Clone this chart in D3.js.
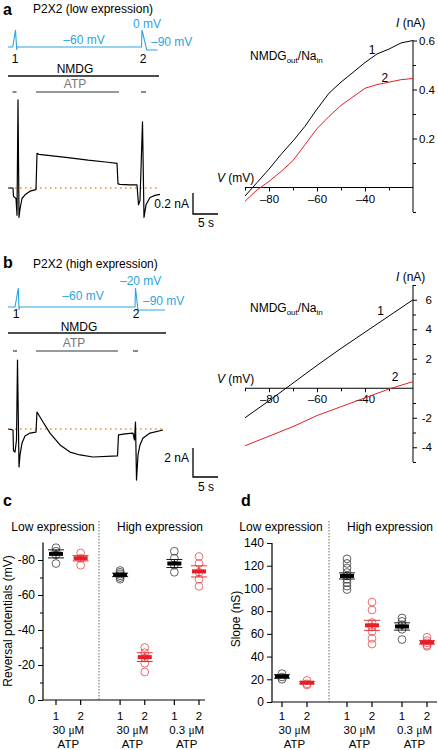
<!DOCTYPE html>
<html><head><meta charset="utf-8">
<script src="https://cdn.jsdelivr.net/npm/d3@7"></script>
<style>
body{margin:0;background:#fff}
svg{font-family:"Liberation Sans",Arial,Helvetica,sans-serif}
</style></head><body>
<svg id="fig" width="438" height="750"></svg>
<script>
// ---------------- DATA ----------------
// Panel a trace (time s, current nA)
const traceA_t=[0,1.0,1.1,1.6,1.8,2.0,2.2,2.4,2.8,3.4,4.4,5.6,5.8,6.2,8,12,16,20,21.8,22.0,22.4,24.4,25.8,26.1,26.4,26.9,27.2,27.6,28.4,29.4,30.4];
const traceA_i=[0,0,-0.08,-0.10,-0.26,0.84,-0.28,-0.2,-0.1,-0.065,-0.03,-0.015,0.33,0.32,0.31,0.29,0.265,0.245,0.235,0.04,0.035,0.03,0.03,-0.16,-0.12,0.63,-0.28,-0.16,-0.09,-0.07,-0.06];
// Panel b trace
const traceB_t=[0,1.0,1.1,1.4,1.7,1.9,2.2,2.4,2.8,3.4,4.4,5.6,5.8,7.0,8.4,10.4,12.4,14.4,17.0,21.9,22.1,23.4,25.0,25.3,25.5,25.7,26.0,26.4,27.0,28.4,31.0];
const traceB_i=[0,-0.07,-1.5,-1.59,-0.76,4.76,-2.62,-1.79,-0.97,-0.48,-0.28,-0.21,1.17,0.48,-0.28,-1.10,-1.59,-1.79,-1.93,-1.86,-0.41,-0.34,-0.28,-0.76,0.48,-3.52,-1.79,-1.10,-0.62,-0.28,-0.07];
// voltage protocols (time s, mV)
const protoA_t=[0,0.95,1.5,1.75,1.8,26.7,26.8,27.75,29.9];
const protoA_v=[-60,-60,0,-90,-60,-60,0,-90,-90];
const protoB_t=[0,1.4,2.06,2.2,2.26,25.4,25.5,26.0,31.4];
const protoB_v=[-60,-60,-20,-90,-60,-60,-20,-90,-90];
// solution bars (time s)
const nmdgA=[0,30.2], atpA=[5.6,22.2], dashA=[[0.9,1.7],[26.6,27.6]];
const nmdgB=[0,31.6], atpB=[5.6,22.0], dashB=[[1.0,1.8],[25.0,26.0]];
// I-V curves
const ivA_V=[-90,-85,-80,-75,-70,-65,-60,-55,-50,-45,-40,-35,-30,-25,-20];
const ivA_1=[-0.035,0.02,0.075,0.135,0.19,0.25,0.32,0.385,0.43,0.47,0.51,0.545,0.565,0.59,0.60];
const ivA_2=[-0.056,-0.01,0.025,0.065,0.11,0.175,0.24,0.29,0.335,0.37,0.405,0.42,0.43,0.44,0.445];
const ivB_V=[-90,-80,-70,-60,-50,-40,-30,-20];
const ivB_1=[-2.0,-0.85,0.35,1.55,2.7,3.8,4.9,6.0];
const ivB_2=[-3.9,-3.25,-2.6,-1.85,-1.25,-0.65,-0.05,0.45];
// panels c and d
const catLabels=["1","2","1","2","1","2"];
const groupConc=["30 μM","30 μM","0.3 μM"];
const catColor=["k","r","k","r","k","r"];
const revPts=[[87,85,83,78],[84,81,77],[74,73,72,71,70,69],[30,27,24,21,16],[85,81,77,73],[82,78,73,69,65]];
const revMean=[83.5,81,71.5,24.5,78,73.5];
const revSem=[2.3,1.5,1.0,2.5,2.3,3.2];
const slopePts=[[25,22,20],[19,16,15],[126,122,118,114,111,108,105,102,99],[88,81,70,66,62,56,51],[74,71,68,64,55],[57,54,52,50,49]];
const slopeMean=[22.5,17,111,67.5,66.5,52.5];
const slopeSem=[1.5,1.0,2.7,4.4,3.2,1.5];

// ---------------- STYLE / LAYOUT ----------------
const BLUE="#2aa5df", RED="#e41f26", REDC="#e8474c", ORANGE="#f0903a", GRAY="#777";
const catSlot=[0,1,2.6,3.6,4.8,5.8];
const svg=d3.select("#fig");

function text(x,y,s,o={}){
  const t=svg.append("text").attr("x",x).attr("y",y).text(s)
    .attr("font-size",o.size||12).attr("fill",o.fill||"#000")
    .attr("text-anchor",o.anchor||"start");
  if(o.bold) t.attr("font-weight","bold");
  if(o.italic) t.attr("font-style","italic");
  return t;
}
function muText(x,y,pre,post,size){
  const t=svg.append("text").attr("x",x).attr("y",y).attr("font-size",size).attr("text-anchor","middle");
  t.append("tspan").text(pre);
  t.append("tspan").attr("font-family","'Liberation Serif',serif").text("μ");
  t.append("tspan").text(post);
}

// ---------------- TRACE PANELS ----------------
const xT=d3.scaleLinear().domain([0,30]).range([8,158]);
function tracePanel(cfg){
  const {tArr,iArr,yScale,pt,pv,yP,nmdg,atp,dashes,yN,yA,baseEnd,barI,barBottom}=cfg;
  const proto=pt.map((t,k)=>[t,pv[k]]);
  svg.append("path").attr("d",d3.line().x(d=>xT(d[0])).y(d=>yP(d[1]))(proto))
    .attr("fill","none").attr("stroke",BLUE).attr("stroke-width",1.1);
  svg.append("line").attr("x1",xT(nmdg[0])).attr("x2",xT(nmdg[1])).attr("y1",yN).attr("y2",yN).attr("stroke","#111").attr("stroke-width",1.4);
  svg.append("line").attr("x1",xT(atp[0])).attr("x2",xT(atp[1])).attr("y1",yA).attr("y2",yA).attr("stroke",GRAY).attr("stroke-width",1.4);
  dashes.forEach(d=>svg.append("line").attr("x1",xT(d[0])).attr("x2",xT(d[1])).attr("y1",yA).attr("y2",yA).attr("stroke","#555").attr("stroke-width",1.4));
  svg.append("line").attr("x1",xT(0.4)).attr("x2",xT(baseEnd)).attr("y1",yScale(0)).attr("y2",yScale(0))
    .attr("stroke",ORANGE).attr("stroke-width",1.6).attr("stroke-dasharray","1.6,3.4");
  const pts=tArr.map((t,k)=>[t,iArr[k]]);
  svg.append("path").attr("d",d3.line().x(d=>xT(d[0])).y(d=>yScale(d[1]))(pts))
    .attr("fill","none").attr("stroke","#000").attr("stroke-width",1.2).attr("stroke-linejoin","round");
  // scale bar: barI nA vertical, 5 s horizontal
  const h=yScale(0)-yScale(barI), w=xT(5)-xT(0), bx=193;
  svg.append("path").attr("d",d3.line()([[bx,barBottom-h],[bx,barBottom],[bx+w,barBottom]]))
    .attr("fill","none").attr("stroke","#000").attr("stroke-width",1.3);
}
const yTa=d3.scaleLinear().domain([0,0.2]).range([188,167]);
const yPa=d3.scaleLinear().domain([-90,-60,0]).range([50,47,30]);
tracePanel({tArr:traceA_t,iArr:traceA_i,yScale:yTa,pt:protoA_t,pv:protoA_v,yP:yPa,nmdg:nmdgA,atp:atpA,dashes:dashA,yN:76,yA:92,baseEnd:30,barI:0.2,barBottom:214});
const yTb=d3.scaleLinear().domain([0,2]).range([429,400]);
const yPb=d3.scaleLinear().domain([-90,-60,-20]).range([310,307,288]);
tracePanel({tArr:traceB_t,iArr:traceB_i,yScale:yTb,pt:protoB_t,pv:protoB_v,yP:yPb,nmdg:nmdgB,atp:atpB,dashes:dashB,yN:333,yA:351,baseEnd:31,barI:2,barBottom:477});

// texts panel a
text(3,15,"a",{size:16,bold:true});
text(33,13,"P2X2 (low expression)");
text(84,44,"–60 mV",{fill:BLUE,anchor:"middle"});
text(133,28,"0 mV",{fill:BLUE});
text(151,46,"–90 mV",{fill:BLUE});
text(xT(1.4),63,"1",{anchor:"middle"});
text(xT(27.0),63,"2",{anchor:"middle"});
text(75,73,"NMDG",{anchor:"middle"});
text(75,88,"ATP",{anchor:"middle",fill:GRAY});
text(189,208,"0.2 nA",{anchor:"end"});
text(206,227,"5 s",{anchor:"middle"});

// texts panel b
text(3,268,"b",{size:16,bold:true});
text(33,268,"P2X2 (high expression)");
text(83,300,"–60 mV",{fill:BLUE,anchor:"middle"});
text(120,285,"–20 mV",{fill:BLUE});
text(143,305,"–90 mV",{fill:BLUE});
text(16,318,"1",{anchor:"middle"});
text(136,318,"2",{anchor:"middle"});
text(79,331,"NMDG",{anchor:"middle"});
text(74,347,"ATP",{anchor:"middle",fill:GRAY});
text(189,462,"2 nA",{anchor:"end"});
text(206,491,"5 s",{anchor:"middle"});

// ---------------- I-V PANELS ----------------
const xIV=d3.scaleLinear().domain([-90,-20]).range([245,413]);
function ivPanel(cfg){
  const {yS,V,c1,c2,majY,minY,fmtY,yTop,yBot,lab1,lab2,nmdgY,iLabY,vLabY,anchorY,labX}=cfg;
  const y0=yS(0);
  svg.append("line").attr("x1",xIV(-90)).attr("x2",xIV(-20)).attr("y1",y0).attr("y2",y0).attr("stroke","#000");
  const gx=svg.append("g").attr("transform",`translate(0,${y0})`)
    .call(d3.axisBottom(xIV).tickValues([-80,-60,-40]).tickSize(4).tickSizeOuter(0).tickPadding(3).tickFormat(d=>"–"+Math.abs(d)));
  gx.select(".domain").remove();
  const gx2=svg.append("g").attr("transform",`translate(0,${y0})`)
    .call(d3.axisBottom(xIV).tickValues([-90,-70,-50,-30]).tickSize(3).tickSizeOuter(0).tickFormat(""));
  gx2.select(".domain").remove();
  const x0=xIV(-20);
  svg.append("line").attr("x1",x0).attr("x2",x0).attr("y1",yS(yBot)).attr("y2",yS(yTop)).attr("stroke","#000");
  const gy=svg.append("g").attr("transform",`translate(${x0},0)`)
    .call(d3.axisRight(yS).tickValues(majY).tickSize(4).tickSizeOuter(0).tickPadding(2).tickFormat(fmtY));
  gy.select(".domain").remove();
  const gy2=svg.append("g").attr("transform",`translate(${x0},0)`)
    .call(d3.axisRight(yS).tickValues(minY).tickSize(3).tickSizeOuter(0).tickFormat(""));
  gy2.select(".domain").remove();
  [gx,gx2,gy,gy2].forEach(g=>{g.selectAll("text").attr("font-size",11.5).attr("font-family",'"Liberation Sans",Arial,sans-serif');
    g.selectAll("line").attr("stroke","#000");});
  if(anchorY) gy.selectAll("text").attr("text-anchor","end").attr("x",labX);
  const line=d3.line().x(d=>xIV(d[0])).y(d=>yS(d[1]));
  svg.append("path").attr("d",line(V.map((v,k)=>[v,c1[k]]))).attr("fill","none").attr("stroke","#000").attr("stroke-width",1);
  svg.append("path").attr("d",line(V.map((v,k)=>[v,c2[k]]))).attr("fill","none").attr("stroke",RED).attr("stroke-width",1);
  text(xIV(lab1[0]),yS(lab1[1]),"1",{anchor:"middle"});
  text(xIV(lab2[0]),yS(lab2[1]),"2",{anchor:"middle"});
  const t=svg.append("text").attr("x",250).attr("y",nmdgY).attr("font-size",12);
  t.append("tspan").text("NMDG");
  t.append("tspan").attr("font-size",8).attr("dy",3).text("out");
  t.append("tspan").attr("dy",-3).text("/Na");
  t.append("tspan").attr("font-size",8).attr("dy",3).text("in");
  const il=svg.append("text").attr("x",396).attr("y",iLabY).attr("font-size",12);
  il.append("tspan").attr("font-style","italic").text("I");
  il.append("tspan").text(" (nA)");
  const vl=svg.append("text").attr("x",217).attr("y",vLabY).attr("font-size",12);
  vl.append("tspan").attr("font-style","italic").text("V");
  vl.append("tspan").text(" (mV)");
}
const yIVa=d3.scaleLinear().domain([-0.1,0.6]).range([212,40.5]);
ivPanel({yS:yIVa,V:ivA_V,c1:ivA_1,c2:ivA_2,majY:[0.2,0.4,0.6],minY:[-0.1,0.1,0.3,0.5],fmtY:d3.format(".1f"),
  yTop:0.6,yBot:-0.1,lab1:[-37,0.545],lab2:[-31.7,0.43],nmdgY:60,iLabY:27,vLabY:182});
const yIVb=d3.scaleLinear().domain([-5,7]).range([462,285]);
ivPanel({yS:yIVb,V:ivB_V,c1:ivB_1,c2:ivB_2,majY:[-4,-2,2,4,6],minY:[-5,-3,-1,1,3,5,7],fmtY:d=>(d<0?"-":"")+Math.abs(d),
  yTop:7,yBot:-5,lab1:[-33.5,5.0],lab2:[-27.5,0.49],nmdgY:312,iLabY:281,vLabY:383,anchorY:true,labX:19});

// ---------------- DOT PANELS ----------------
function dotPanel(cfg){
  const {xEnd,yS,ticks,minor,fmt,pts,mean,sem,xRange,divX,letterX,title,lowX,highX,axisX}=cfg;
  const xS=d3.scaleLinear().domain([0,5.8]).range(xRange);
  const yb=yS(0);
  svg.append("line").attr("x1",divX).attr("x2",divX).attr("y1",521).attr("y2",yb)
    .attr("stroke","#666").attr("stroke-width",1).attr("stroke-dasharray","1.5,1.5");
  const gy=svg.append("g").attr("transform",`translate(${axisX},0)`)
    .call(d3.axisLeft(yS).tickValues(ticks).tickSize(5).tickSizeOuter(0).tickPadding(3).tickFormat(fmt));
  gy.select(".domain").remove();
  if(minor.length){
    const gm=svg.append("g").attr("transform",`translate(${axisX},0)`)
      .call(d3.axisLeft(yS).tickValues(minor).tickSize(3).tickSizeOuter(0).tickFormat(""));
    gm.select(".domain").remove();
    gm.selectAll("line").attr("stroke","#000");
  }
  gy.selectAll("text").attr("font-size",12).attr("font-family",'"Liberation Sans",Arial,sans-serif');
  gy.selectAll("line").attr("stroke","#000");
  svg.append("line").attr("x1",axisX).attr("x2",axisX).attr("y1",yS(yS.domain()[1])).attr("y2",yb).attr("stroke","#000").attr("stroke-width",1.2);
  svg.append("line").attr("x1",axisX).attr("x2",xEnd).attr("y1",yb).attr("y2",yb).attr("stroke","#000").attr("stroke-width",1.2);
  catSlot.forEach((s,k)=>{
    svg.append("line").attr("x1",xS(s)).attr("x2",xS(s)).attr("y1",yb).attr("y2",yb+5).attr("stroke","#000").attr("stroke-width",1.2);
    text(xS(s),720,catLabels[k],{anchor:"middle",size:11.5});
  });
  groupConc.forEach((g,k)=>{
    const cx=(xS(catSlot[2*k])+xS(catSlot[2*k+1]))/2;
    const parts=g.split("μ");
    muText(cx,734,parts[0],parts[1],11.5);
    text(cx,748,"ATP",{anchor:"middle",size:11.5});
  });
  pts.forEach((arr,k)=>{
    const cx=xS(catSlot[k]);
    const col=catColor[k]==="r";
    arr.forEach(v=>svg.append("circle").attr("cx",cx).attr("cy",yS(v)).attr("r",3.9)
      .attr("fill","none").attr("stroke",col?REDC:"#3a3a3a").attr("stroke-width",0.8));
    const c=col?RED:"#000";
    const m=mean[k], s=sem[k];
    [m-s,m+s].forEach(v=>svg.append("line").attr("x1",cx-8).attr("x2",cx+8).attr("y1",yS(v)).attr("y2",yS(v)).attr("stroke",c).attr("stroke-width",0.9));
    svg.append("line").attr("x1",cx).attr("x2",cx).attr("y1",yS(m-s)).attr("y2",yS(m+s)).attr("stroke",c).attr("stroke-width",0.9);
    svg.append("rect").attr("x",cx-7).attr("y",yS(m)-2).attr("width",14).attr("height",4).attr("fill",c);
  });
  text(letterX,506,cfg.letter,{size:16,bold:true});
  text(lowX,531,"Low expression",{anchor:"middle"});
  text(highX,531,"High expression",{anchor:"middle"});
  svg.append("text").attr("transform",`translate(${cfg.titleX},${cfg.titleY}) rotate(-90)`).attr("text-anchor","middle")
    .attr("font-size",12).text(title);
}
const yC=d3.scaleLinear().domain([0,90]).range([700,542.5]);
dotPanel({letter:"c",letterX:3,axisX:43,xEnd:205,yS:yC,ticks:[0,20,40,60,80],minor:[10,30,50,70],
  fmt:d=>d===0?"0":"-"+d,pts:revPts,mean:revMean,sem:revSem,xRange:[56,199],divX:99,
  title:"Reversal potentials (mV)",lowX:53,highX:160,titleX:12,titleY:621});
const yD=d3.scaleLinear().domain([0,140]).range([702,543]);
dotPanel({letter:"d",letterX:241,axisX:272,xEnd:437,yS:yD,ticks:[0,20,40,60,80,100,120,140],minor:[],
  fmt:d=>d,pts:slopePts,mean:slopeMean,sem:slopeSem,xRange:[282,427],divX:329,
  title:"Slope (nS)",lowX:281,highX:390,titleX:240,titleY:619});
</script>
</body></html>
